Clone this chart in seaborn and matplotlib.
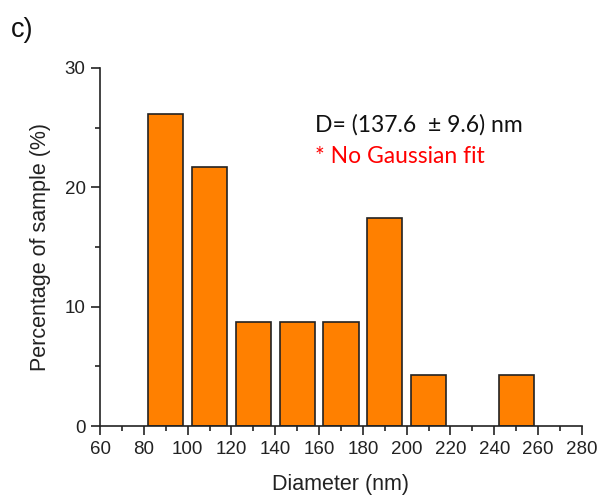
import matplotlib
matplotlib.use("Agg")
import matplotlib.pyplot as plt
from matplotlib.ticker import MultipleLocator
import seaborn as sns
import pandas as pd

# Size distribution histogram (bin centres in nm, share of sample in %)
diameter_nm = [90, 110, 130, 150, 170, 190, 210, 250]
percentage = [26.1, 21.7, 8.7, 8.7, 8.7, 17.4, 4.3, 4.3]
x_ticks = [60, 80, 100, 120, 140, 160, 180, 200, 220, 240, 260, 280]
y_ticks = [0, 10, 20, 30]

sns.set_theme(style="ticks")
plt.rcParams["font.family"] = ["Liberation Sans", "DejaVu Sans"]

df = pd.DataFrame({"Diameter": diameter_nm, "Percentage": percentage})

fig = plt.figure(figsize=(6.03, 4.95), dpi=100)
ax = fig.add_axes([0.166, 0.139, 0.799, 0.724])

sns.barplot(data=df, x="Diameter", y="Percentage", native_scale=True,
            width=0.8, color="#FF8000", saturation=1,
            edgecolor="#222222", linewidth=1.2, ax=ax)

ax.set_xlim(60, 280)
ax.set_ylim(0, 30)
ax.set_xticks(x_ticks)
ax.set_yticks(y_ticks)
ax.xaxis.set_minor_locator(MultipleLocator(10))
ax.yaxis.set_minor_locator(MultipleLocator(5))
ax.tick_params(axis="both", which="major", direction="out", length=6.5,
               width=1.2, labelsize=13.5, colors="#222222", pad=4)
ax.tick_params(axis="both", which="minor", direction="out", length=3.5,
               width=1.2, colors="#222222")
for s in ["top", "right"]:
    ax.spines[s].set_visible(False)
for s in ["left", "bottom"]:
    ax.spines[s].set_linewidth(1.2)
    ax.spines[s].set_color("#222222")

ax.set_xlabel("Diameter (nm)", fontsize=15.5, color="#222222", labelpad=12)
ax.set_ylabel("Percentage of sample (%)", fontsize=15.5, color="#222222", labelpad=10)

ax.text(0.446, 0.821, "D= (137.6  \u00b1 9.6) nm", transform=ax.transAxes,
        fontsize=16.5, family=["Lato", "DejaVu Sans"], color="#111111",
        va="baseline", ha="left")
ax.text(0.446, 0.735, "* No Gaussian fit", transform=ax.transAxes,
        fontsize=16.5, family=["Lato", "DejaVu Sans"], color="#FF0000",
        va="baseline", ha="left")

fig.text(0.018, 0.94, "c)", fontsize=19.5, color="#111111", va="center", ha="left")

fig.savefig("out.png", dpi=100)
